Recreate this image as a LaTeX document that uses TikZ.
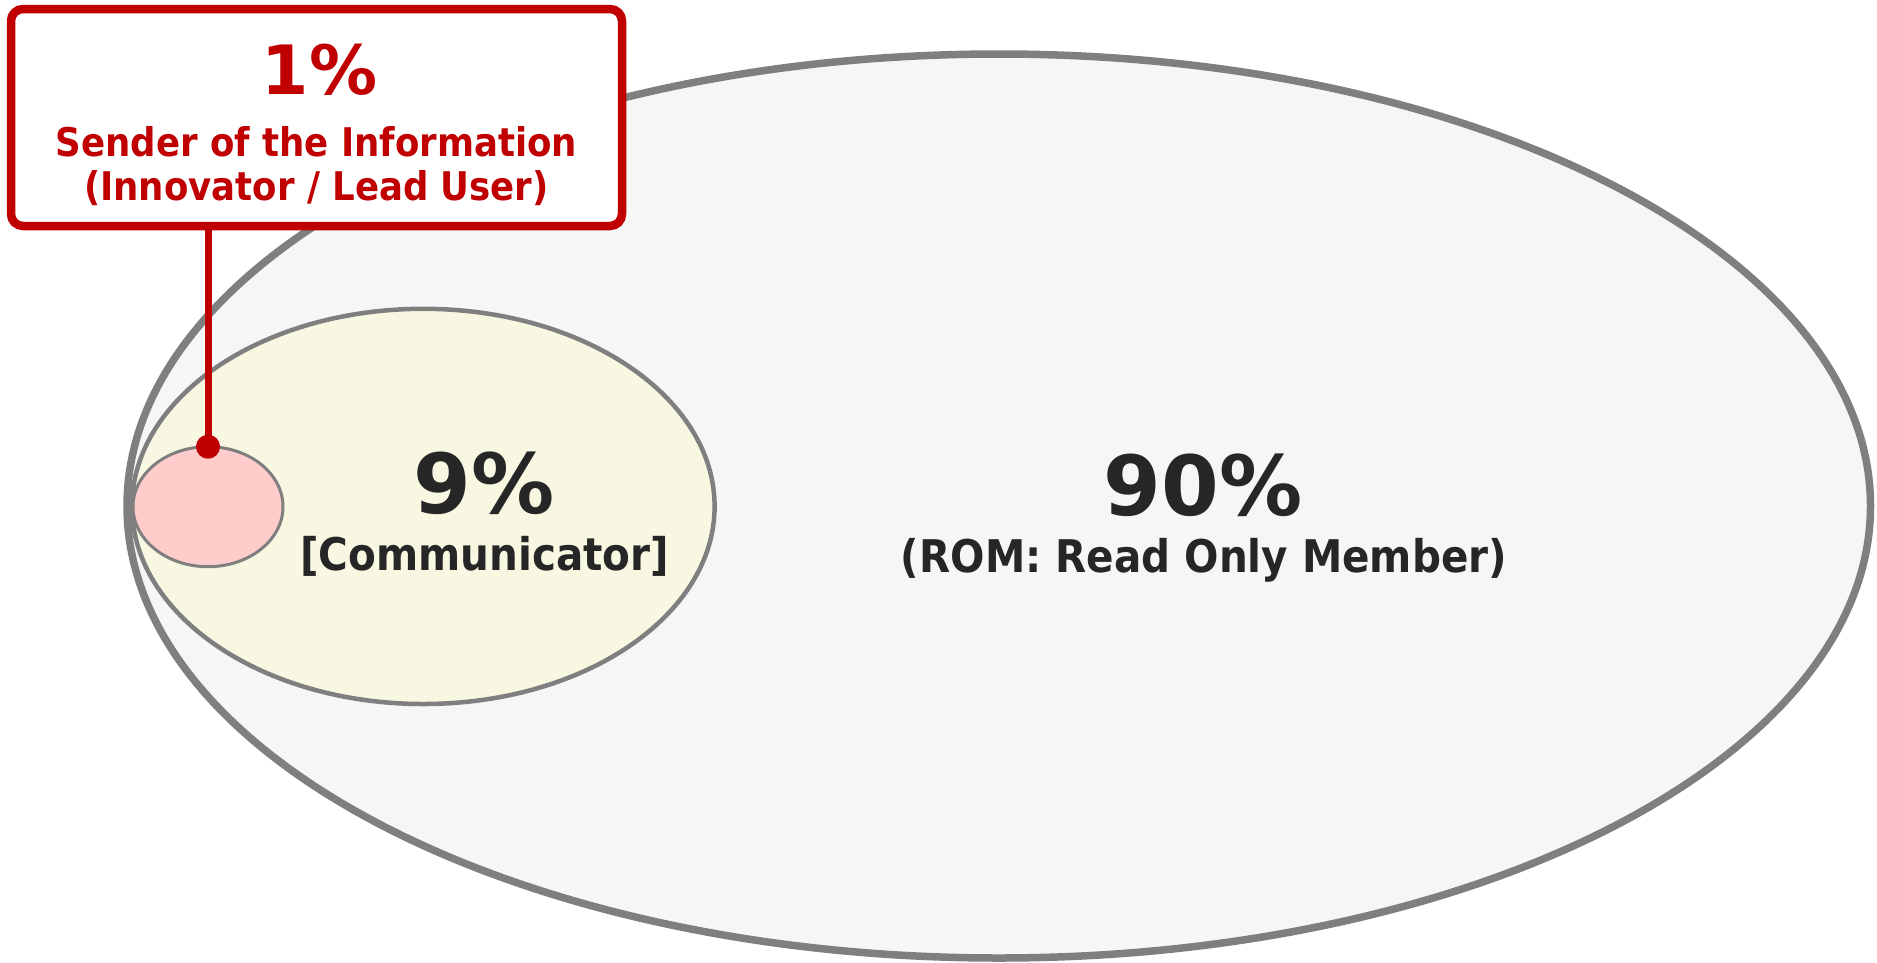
\documentclass[tikz,border=0pt]{standalone}
\usepackage{fontspec}
\usetikzlibrary{shapes.geometric}
\newfontfamily\labelfont{DejaVu Sans Condensed Bold}
\newfontfamily\figurefont{DejaVu Sans Bold}
\definecolor{rimgrey}{HTML}{7F7F7F}
\definecolor{romfill}{HTML}{F6F6F6}
\definecolor{commfill}{HTML}{F8F8E2}
\definecolor{sendfill}{HTML}{FFCCCC}
\definecolor{leadred}{HTML}{C00000}
\definecolor{inkdark}{HTML}{262626}
\tikzset{
  group/.style={ellipse, draw=rimgrey, inner sep=0pt, outer sep=0pt},
  pct/.style={anchor=base, inner sep=0pt, text=inkdark, font=\figurefont\fontsize{83}{83}\selectfont},
  role/.style={anchor=base, inner sep=0pt, text=inkdark, font=\labelfont\fontsize{45}{45}\selectfont},
  sendtext/.style={anchor=base, inner sep=0pt, text=leadred, font=\labelfont\fontsize{39.5}{39.5}\selectfont},
  callout/.style={draw=leadred, line width=8.5pt, fill=white, rounded corners=12pt, inner sep=0pt},
  leader/.style={draw=leadred, line width=7pt},
  pin/.style={circle, fill=leadred, inner sep=0pt, minimum size=24pt}
}
\begin{document}
\begin{tikzpicture}[x=1pt, y=-1pt]
  \useasboundingbox (0,0) rectangle (1877,962);

  % nested member groups
  \node[group, fill=romfill, line width=7.5pt, minimum width=1743.5pt, minimum height=904pt] (rom) at (998.75,506) {};
  \node[group, fill=commfill, line width=4.5pt, minimum width=582.6pt, minimum height=395.2pt] (comm) at (423.3,506.4) {};
  \node[group, fill=sendfill, line width=3pt, minimum width=150pt, minimum height=120pt] (send) at (208,506.7) {};

  % labels of the groups
  \node[pct] (romPct) at (1203,515) {90\%};
  \node[role] (romRole) at (1204,572) {(ROM: Read Only Member)};
  \node[pct] (commPct) at (484,513) {9\%};
  \node[role] (commRole) at (484.5,570) {[Communicator]};

  % callout for the innermost group
  \node[callout, minimum width=611pt, minimum height=217pt] (box) at (316.5,117.5) {};
  \node[anchor=base, inner sep=0pt, text=leadred, font=\figurefont\fontsize{68}{68}\selectfont] (sendPct) at (319.5,94) {1\%};
  \node[sendtext] (sendRole) at (316.5,156) {Sender of the Information};
  \node[sendtext] (sendAlias) at (316.5,200) {(Innovator / Lead User)};

  % leader line from the callout down to the group
  \node[pin] (dot) at (send.north) {};
  \draw[leader] (dot.center) -- (dot.center |- box.south);
\end{tikzpicture}
\end{document}
